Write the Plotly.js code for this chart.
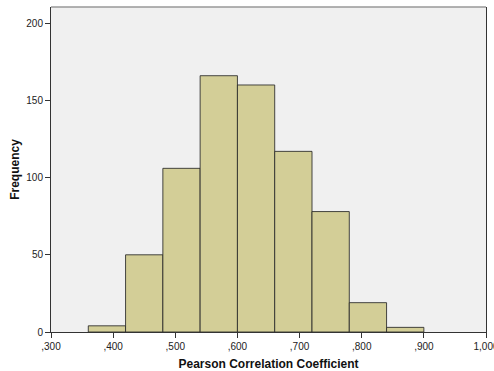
<!DOCTYPE html>
<html><head><meta charset="utf-8">
<script src="https://cdn.plot.ly/plotly-3.0.1.min.js"></script>
<style>body{margin:0;padding:0;background:#fff;}#chart{width:494px;height:371px;}</style>
</head><body><div id="chart"></div>
<script>
const binCenters = [0.39, 0.45, 0.51, 0.57, 0.63, 0.69, 0.75, 0.81, 0.87];
const counts = [4, 50, 106, 166, 160, 117, 78, 19, 3];
const xTickVals = [0.3, 0.4, 0.5, 0.6, 0.7, 0.8, 0.9, 1.0];
const xTickText = [",300", ",400", ",500", ",600", ",700", ",800", ",900", "1,000"];
const yTickVals = [0, 50, 100, 150, 200];

const trace = {
  type: 'bar', x: binCenters, y: counts, width: 0.06,
  marker: {color: '#D3CE97', line: {color: 'rgba(40,40,40,0.85)', width: 1}},
  hoverinfo: 'skip'
};
const layout = {
  width: 494, height: 371,
  margin: {l: 51, r: 8, t: 7, b: 39},
  paper_bgcolor: '#ffffff', plot_bgcolor: '#F0F0F0',
  font: {family: 'Liberation Sans, Arial, sans-serif', size: 10, color: '#222'},
  showlegend: false,
  bargap: 0,
  xaxis: {
    range: [0.3, 1.0], tickvals: xTickVals, ticktext: xTickText,
    ticklabeloverflow: 'allow',
    showgrid: false, zeroline: false, showline: true, linecolor: '#333', linewidth: 1,
    ticks: 'outside', ticklen: 5, tickcolor: '#333',
    tickfont: {size: 10, color: '#222'},
    title: {text: '<b>Pearson Correlation Coefficient</b>', font: {size: 12, color: '#111'}, standoff: 12}
  },
  yaxis: {
    range: [0, 210.5], tickvals: yTickVals,
    showgrid: false, zeroline: false, showline: true, linecolor: '#333', linewidth: 1,
    mirror: true,
    ticks: 'outside', ticklen: 5, tickcolor: '#333',
    tickfont: {size: 10, color: '#222'},
    title: {text: '<b>Frequency</b>', font: {size: 12, color: '#111'}, standoff: 4}
  },
  shapes: [{type: 'line', xref: 'paper', yref: 'paper', x0: 0, x1: 1, y0: 1, y1: 1, line: {color: '#999', width: 1.5}}]
};
Plotly.newPlot('chart', [trace], layout, {displayModeBar: false, staticPlot: true});
</script></body></html>
